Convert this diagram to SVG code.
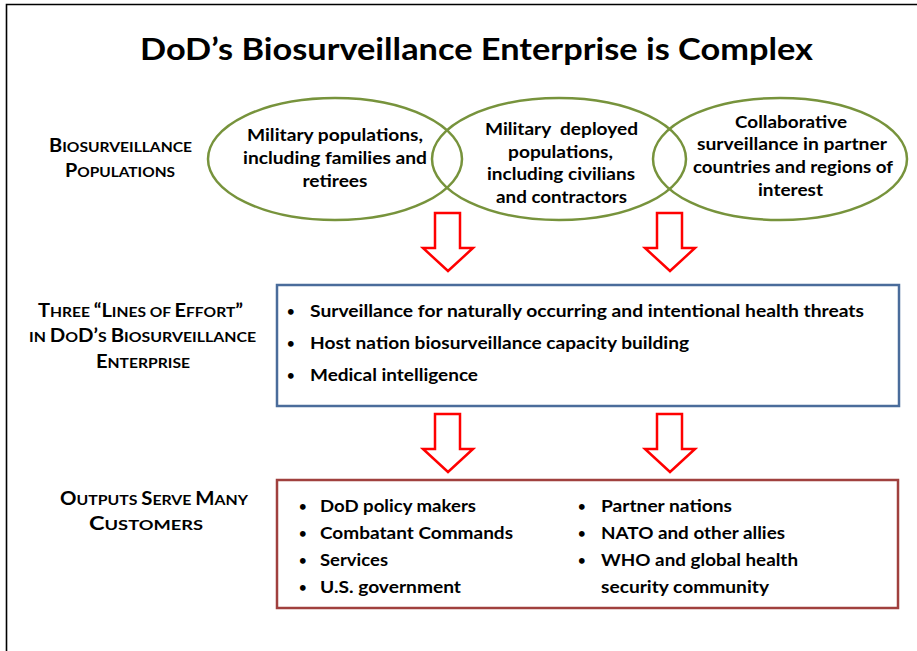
<svg xmlns="http://www.w3.org/2000/svg" width="917" height="651" viewBox="0 0 917 651">
<style>
  text { font-family: Lato, "Liberation Sans", sans-serif; font-weight: bold; fill: #000; }
  .title { font-size: 30px; }
  .el { font-size: 17px; text-anchor: middle; }
  .lbl { font-size: 14px; text-anchor: middle; }
  .c { font-size: 18px; }
  .item { font-size: 17px; }
  .dot { font-size: 13px; }
  .pop { fill: none; stroke: #77933C; stroke-width: 2.5; }
  .blue { fill: #fff; stroke: #4A6C9B; stroke-width: 2.5; }
  .red { fill: #fff; stroke: #A0403E; stroke-width: 2.5; }
  .arrow { fill: #fff; stroke: #FF0000; stroke-width: 2.5; stroke-linejoin: miter; }
  .frame { fill: none; stroke: #000; stroke-width: 1.6; }
</style>
<rect x="0" y="0" width="917" height="651" fill="#fff"/>
<path class="frame" d="M6.5,651 V4.5 H917"/>

<g id="title">
  <text class="title" x="476.5" y="60" text-anchor="middle" textLength="673" lengthAdjust="spacingAndGlyphs">DoD’s Biosurveillance Enterprise is Complex</text>
</g>

<g id="label-populations">
  <text class="lbl" x="120.5" y="152" textLength="143" lengthAdjust="spacingAndGlyphs"><tspan class="c">B</tspan>IOSURVEILLANCE</text>
  <text class="lbl" x="120" y="177" textLength="110" lengthAdjust="spacingAndGlyphs"><tspan class="c">P</tspan>OPULATIONS</text>
</g>

<g id="pop-military">
  <ellipse class="pop" cx="335" cy="159" rx="127" ry="61"/>
  <text class="el" x="335" y="141" textLength="176" lengthAdjust="spacingAndGlyphs">Military populations,</text>
  <text class="el" x="335" y="164" textLength="184" lengthAdjust="spacingAndGlyphs">including families and</text>
  <text class="el" x="335" y="187" textLength="65" lengthAdjust="spacingAndGlyphs">retirees</text>
</g>

<g id="pop-deployed">
  <ellipse class="pop" cx="559" cy="159" rx="127" ry="61"/>
  <text class="el" x="561.5" y="135" textLength="153" lengthAdjust="spacingAndGlyphs" style="white-space:pre">Military  deployed</text>
  <text class="el" x="560.5" y="158" textLength="105" lengthAdjust="spacingAndGlyphs">populations,</text>
  <text class="el" x="561" y="180" textLength="148" lengthAdjust="spacingAndGlyphs">including civilians</text>
  <text class="el" x="561.5" y="203" textLength="131" lengthAdjust="spacingAndGlyphs">and contractors</text>
</g>

<g id="pop-partner">
  <ellipse class="pop" cx="780" cy="159" rx="127" ry="61"/>
  <text class="el" x="791" y="128" textLength="112" lengthAdjust="spacingAndGlyphs">Collaborative</text>
  <text class="el" x="792" y="150" textLength="190" lengthAdjust="spacingAndGlyphs">surveillance in partner</text>
  <text class="el" x="793" y="173" textLength="200" lengthAdjust="spacingAndGlyphs">countries and regions of</text>
  <text class="el" x="790.5" y="196" textLength="65" lengthAdjust="spacingAndGlyphs">interest</text>
</g>

<g id="label-lines">
  <text class="lbl" x="140.5" y="317" textLength="205" lengthAdjust="spacingAndGlyphs"><tspan class="c">T</tspan>HREE <tspan class="c">“L</tspan>INES OF <tspan class="c">E</tspan>FFORT<tspan class="c">”</tspan></text>
  <text class="lbl" x="142.5" y="342" textLength="227" lengthAdjust="spacingAndGlyphs">IN <tspan class="c">D</tspan>O<tspan class="c">D’</tspan>S <tspan class="c">B</tspan>IOSURVEILLANCE</text>
  <text class="lbl" x="143" y="368" textLength="94" lengthAdjust="spacingAndGlyphs"><tspan class="c">E</tspan>NTERPRISE</text>
</g>

<g id="lines-of-effort">
  <rect class="blue" x="277" y="285" width="622" height="121"/>
  <text class="dot" x="287" y="316">•</text>
  <text class="item" x="310" y="317" textLength="554" lengthAdjust="spacingAndGlyphs">Surveillance for naturally occurring and intentional health threats</text>
  <text class="dot" x="287" y="348">•</text>
  <text class="item" x="310" y="349" textLength="379" lengthAdjust="spacingAndGlyphs">Host nation biosurveillance capacity building</text>
  <text class="dot" x="287" y="380">•</text>
  <text class="item" x="310" y="381" textLength="168" lengthAdjust="spacingAndGlyphs">Medical intelligence</text>
</g>

<g id="label-outputs">
  <text class="lbl" x="154" y="505" textLength="188" lengthAdjust="spacingAndGlyphs"><tspan class="c">O</tspan>UTPUTS <tspan class="c">S</tspan>ERVE <tspan class="c">M</tspan>ANY</text>
  <text class="lbl" x="146" y="530" textLength="114" lengthAdjust="spacingAndGlyphs"><tspan class="c">C</tspan>USTOMERS</text>
</g>

<g id="customers">
  <rect class="red" x="277" y="480" width="621" height="128"/>
  <text class="dot" x="299" y="511">•</text>
  <text class="item" x="320" y="512" textLength="156" lengthAdjust="spacingAndGlyphs">DoD policy makers</text>
  <text class="dot" x="299" y="538">•</text>
  <text class="item" x="320" y="539" textLength="193" lengthAdjust="spacingAndGlyphs">Combatant Commands</text>
  <text class="dot" x="299" y="565">•</text>
  <text class="item" x="320" y="566" textLength="68" lengthAdjust="spacingAndGlyphs">Services</text>
  <text class="dot" x="299" y="592">•</text>
  <text class="item" x="320" y="593" textLength="141" lengthAdjust="spacingAndGlyphs">U.S. government</text>
  <text class="dot" x="578" y="511">•</text>
  <text class="item" x="601" y="512" textLength="131" lengthAdjust="spacingAndGlyphs">Partner nations</text>
  <text class="dot" x="578" y="538">•</text>
  <text class="item" x="601" y="539" textLength="184" lengthAdjust="spacingAndGlyphs">NATO and other allies</text>
  <text class="dot" x="578" y="565">•</text>
  <text class="item" x="601" y="566" textLength="197" lengthAdjust="spacingAndGlyphs">WHO and global health</text>
  <text class="item" x="601" y="593" textLength="168" lengthAdjust="spacingAndGlyphs">security community</text>
</g>

<g id="connectors">
  <polygon class="arrow" points="435,213 460,213 460,248 473,248 448,271 423,248 435,248"/>
  <polygon class="arrow" points="657,213 682,213 682,248 695,248 670,271 645,248 657,248"/>
  <polygon class="arrow" points="435,414 460,414 460,449 473,449 448,472 423,449 435,449"/>
  <polygon class="arrow" points="657,414 682,414 682,449 695,449 670,472 645,449 657,449"/>
</g>
</svg>
